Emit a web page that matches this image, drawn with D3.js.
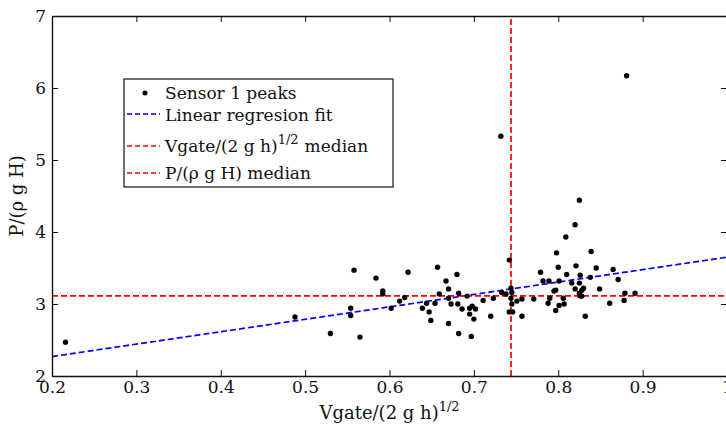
<!DOCTYPE html>
<html>
<head>
<meta charset="utf-8">
<script src="https://cdn.jsdelivr.net/npm/d3@7"></script>
<style>
  body { margin: 0; background: #fff; }
  svg text { font-family: "DejaVu Serif", "Liberation Serif", serif; fill: #111; }
</style>
</head>
<body>
<div id="area"></div>
<script>
// Sensor 1 peaks
var peakX = [0.216, 0.488, 0.530, 0.554, 0.554, 0.558, 0.565, 0.584, 0.592, 0.592,
             0.602, 0.612, 0.618, 0.622, 0.639, 0.644, 0.647, 0.649, 0.654, 0.657,
             0.659, 0.667, 0.670, 0.670, 0.670, 0.673, 0.680, 0.681, 0.682, 0.682,
             0.686, 0.692, 0.695, 0.698, 0.695, 0.700, 0.702, 0.697, 0.711, 0.720,
             0.723, 0.732, 0.733, 0.738, 0.742, 0.744, 0.745, 0.744, 0.745, 0.742,
             0.746, 0.751, 0.757, 0.757, 0.771, 0.779, 0.782, 0.789, 0.788, 0.790,
             0.795, 0.797, 0.797, 0.798, 0.800, 0.801, 0.801, 0.806, 0.807, 0.809,
             0.810, 0.816, 0.820, 0.820, 0.821, 0.825, 0.825, 0.825, 0.826, 0.826,
             0.828, 0.828, 0.830, 0.832, 0.838, 0.839, 0.845, 0.849, 0.861, 0.865,
             0.871, 0.878, 0.879, 0.881, 0.891];
var peakY = [2.47, 2.82, 2.59, 2.94, 2.84, 3.47, 2.54, 3.36, 3.18, 3.14,
             2.94, 3.04, 3.09, 3.44, 2.94, 3.01, 2.89, 2.77, 3.01, 3.51,
             3.14, 3.32, 3.21, 3.08, 2.73, 3.00, 3.41, 3.00, 3.15, 2.59,
             2.93, 3.11, 2.94, 2.97, 2.86, 2.79, 2.93, 2.55, 3.05, 2.83,
             3.08, 5.33, 3.16, 3.14, 3.61, 3.22, 3.16, 3.08, 3.00, 2.89,
             2.89, 3.04, 3.07, 2.83, 3.07, 3.44, 3.32, 3.32, 3.01, 3.08,
             3.18, 3.19, 2.91, 3.71, 3.51, 3.32, 2.98, 3.08, 3.00, 3.93,
             3.41, 3.29, 4.10, 3.21, 3.53, 4.44, 3.29, 3.15, 3.40, 3.11,
             3.19, 3.11, 3.22, 2.83, 3.37, 3.73, 3.50, 3.21, 3.01, 3.48,
             3.34, 3.05, 3.15, 6.17, 3.15];

// regression line end points and medians
var fitX = [0.2, 1.0];
var fitY = [2.27, 3.65];
var xMedian = 0.744;
var yMedian = 3.113;

var xTicks = [0.2, 0.3, 0.4, 0.5, 0.6, 0.7, 0.8, 0.9, 1];
var yTicks = [2, 3, 4, 5, 6, 7];

var width = 726, height = 430;
var margin = {left: 52, top: 16, right: -1, bottom: 54};
var plotW = width - margin.left - margin.right,
    plotH = height - margin.top - margin.bottom;

var svg = d3.select('#area').append('svg')
    .attr('width', width)
    .attr('height', height);

var x = d3.scaleLinear().domain([0.2, 1]).range([margin.left, margin.left + plotW]);
var y = d3.scaleLinear().domain([2, 7]).range([margin.top + plotH, margin.top]);

var g = svg.append('g');

// lines first, dots on top
var line = d3.line().x(function(d) { return x(d[0]); }).y(function(d) { return y(d[1]); });

g.append('path')
    .datum(d3.zip(fitX, fitY))
    .attr('d', line)
    .attr('fill', 'none')
    .attr('stroke', '#0000ff')
    .attr('stroke-width', 1.7)
    .attr('stroke-dasharray', '6,3');

g.append('path')
    .datum([[0.2, yMedian], [1, yMedian]])
    .attr('d', line)
    .attr('fill', 'none')
    .attr('stroke', '#ff0000')
    .attr('stroke-width', 1.7)
    .attr('stroke-dasharray', '6,3');

g.append('path')
    .datum([[xMedian, 2], [xMedian, 7]])
    .attr('d', line)
    .attr('fill', 'none')
    .attr('stroke', '#ff0000')
    .attr('stroke-width', 1.7)
    .attr('stroke-dasharray', '6,3');

g.selectAll('circle.peak')
    .data(d3.zip(peakX, peakY))
    .enter().append('circle')
    .attr('class', 'peak')
    .attr('cx', function(d) { return x(d[0]); })
    .attr('cy', function(d) { return y(d[1]); })
    .attr('r', 2.7)
    .attr('fill', '#000');

// axes: ticks point inward on all four sides
var tickLen = 6;
var axB = d3.axisBottom(x).tickValues(xTicks).tickSizeInner(-tickLen).tickSizeOuter(0)
    .tickPadding(5).tickFormat(function(d) { return d === 1 ? '1' : d3.format('.1f')(d); });
var axT = d3.axisTop(x).tickValues(xTicks).tickSizeInner(-tickLen).tickSizeOuter(0).tickFormat('');
var axL = d3.axisLeft(y).tickValues(yTicks).tickSizeInner(-tickLen).tickSizeOuter(0)
    .tickPadding(6).tickFormat(d3.format('d'));
var axR = d3.axisRight(y).tickValues(yTicks).tickSizeInner(-tickLen).tickSizeOuter(0).tickFormat('');

function styleAxis(sel) {
  sel.select('.domain').attr('stroke', '#111').attr('stroke-width', 1.4);
  sel.selectAll('.tick line').attr('stroke', '#111').attr('stroke-width', 1);
  sel.selectAll('.tick text').attr('font-size', 17).attr('font-family', '"DejaVu Serif", serif').attr('fill', '#111');
}

svg.append('g').attr('transform', 'translate(0,' + (margin.top + plotH) + ')').call(axB).call(styleAxis);
svg.append('g').attr('transform', 'translate(0,' + margin.top + ')').call(axT).call(styleAxis);
svg.append('g').attr('transform', 'translate(' + margin.left + ',0)').call(axL).call(styleAxis);
svg.append('g').attr('transform', 'translate(' + (margin.left + plotW) + ',0)').call(axR).call(styleAxis);

// axis labels
var xl = svg.append('text')
    .attr('x', margin.left + plotW / 2)
    .attr('y', 419)
    .attr('text-anchor', 'middle')
    .attr('font-size', 18);
xl.append('tspan').text('Vgate/(2 g h)');
xl.append('tspan').attr('dy', -8).attr('font-size', 13).text('1/2');

svg.append('text')
    .attr('transform', 'translate(23,' + (margin.top + plotH / 2) + ') rotate(-90)')
    .attr('text-anchor', 'middle')
    .attr('font-size', 18)
    .text('P/(\u03c1 g H)');

// legend
var legend = svg.append('g');
legend.append('rect')
    .attr('x', 124).attr('y', 79)
    .attr('width', 269).attr('height', 108)
    .attr('fill', '#fff')
    .attr('stroke', '#111')
    .attr('stroke-width', 1.2);

var legendRows = [
  {type: 'dot', y: 93},
  {type: 'line', color: '#0000ff', y: 114},
  {type: 'line', color: '#ff0000', y: 146},
  {type: 'line', color: '#ff0000', y: 173}
];
var legendBase = [99, 121, 152, 179];

legendRows.forEach(function(r, i) {
  if (r.type === 'dot') {
    legend.append('circle').attr('cx', 145).attr('cy', r.y).attr('r', 2.5).attr('fill', '#000');
  } else {
    legend.append('line')
        .attr('x1', 127).attr('x2', 160)
        .attr('y1', r.y).attr('y2', r.y)
        .attr('stroke', r.color)
        .attr('stroke-width', 1.6)
        .attr('stroke-dasharray', '5,3');
  }
});

var fs = 17;
legend.append('text').attr('x', 165).attr('y', legendBase[0]).attr('font-size', fs).text('Sensor 1 peaks');
legend.append('text').attr('x', 165).attr('y', legendBase[1]).attr('font-size', fs).text('Linear regresion fit');
var t2 = legend.append('text').attr('x', 165).attr('y', legendBase[2]).attr('font-size', fs);
t2.append('tspan').text('Vgate/(2 g h)');
t2.append('tspan').attr('dy', -8).attr('font-size', 13).text('1/2');
t2.append('tspan').attr('dy', 8).attr('dx', 6).text('median');
legend.append('text').attr('x', 165).attr('y', legendBase[3]).attr('font-size', fs).text('P/(\u03c1 g H) median');
</script>
</body>
</html>
